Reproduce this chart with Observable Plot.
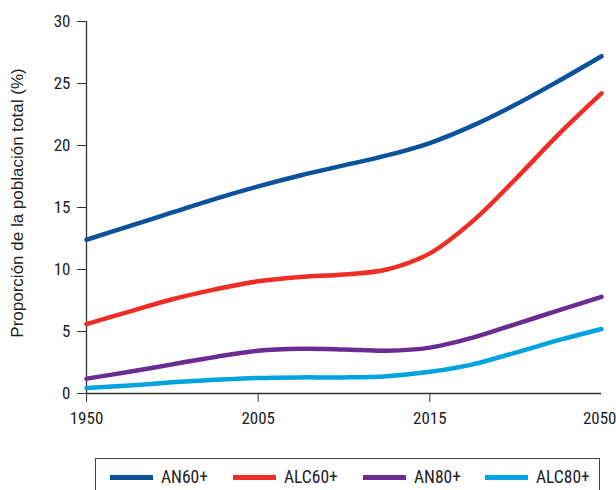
<!DOCTYPE html>
<html>
<head>
<meta charset="utf-8">
<script src="https://cdn.jsdelivr.net/npm/d3@7"></script>
<script src="https://cdn.jsdelivr.net/npm/@observablehq/plot@0.6"></script>
<style>
  body { margin: 0; background: #fff; }
  #wrap { position: relative; width: 616px; height: 490px; overflow: hidden; }
  #legend {
    position: absolute; left: 95px; top: 458px; width: 505px; height: 50px;
    border: 1.5px solid #444; box-sizing: border-box;
    font-family: "Liberation Sans Narrow", "Roboto Condensed", "DejaVu Sans Condensed", sans-serif;
    font-size: 17.5px; color: #222;
  }
  .item { position: absolute; top: 8px; display: flex; align-items: center; }
  .sw { width: 43px; height: 5px; margin-right: 8px; }
</style>
</head>
<body>
<div id="wrap">
  <div id="chart"></div>
  <div id="legend"></div>
</div>
<script>
// x positions along the (non-proportional) time axis: 0 = 1950, 1 = 2005, 2 = 2015, 3 = 2050
const positions = [0, 0.25, 0.5, 0.75, 1, 1.25, 1.5, 1.75, 2, 2.25, 2.5, 2.75, 3];
const tickPositions = [0, 1, 2, 3];
const tickLabels = ["1950", "2005", "2015", "2050"];
const yTicks = [0, 5, 10, 15, 20, 25, 30];

const seriesNames = ["AN60+", "ALC60+", "AN80+", "ALC80+"];
const seriesColors = ["#0a539c", "#ee2e24", "#6a2c91", "#00a3e0"];

const an60  = [12.4, 13.5, 14.6, 15.7, 16.7, 17.6, 18.4, 19.2, 20.2, 21.6, 23.3, 25.2, 27.2];
const alc60 = [5.6, 6.6, 7.6, 8.4, 9.05, 9.4, 9.6, 10.0, 11.3, 13.9, 17.3, 20.9, 24.2];
const an80  = [1.2, 1.75, 2.35, 2.95, 3.45, 3.6, 3.55, 3.45, 3.7, 4.5, 5.6, 6.7, 7.8];
const alc80 = [0.45, 0.65, 0.9, 1.1, 1.25, 1.3, 1.3, 1.4, 1.75, 2.35, 3.3, 4.3, 5.2];

const seriesValues = [an60, alc60, an80, alc80];
const data = [];
seriesNames.forEach((name, s) => {
  positions.forEach((p, i) => data.push({series: name, x: p, y: seriesValues[s][i]}));
});

const tickFont = "'Liberation Sans Narrow', 'Roboto Condensed', 'DejaVu Sans Condensed', sans-serif";

const chart = Plot.plot({
  width: 616,
  height: 433,
  marginLeft: 86,
  marginRight: 15,
  marginTop: 21,
  marginBottom: 40,
  style: {fontFamily: tickFont, fontSize: "17px", color: "#222", background: "#fff"},
  x: {domain: [0, 3]},
  y: {domain: [0, 30]},
  color: {domain: seriesNames, range: seriesColors},
  marks: [
    Plot.axisX({ticks: tickPositions.slice(0, 3), tickFormat: i => tickLabels[i], tickSize: 9, tickPadding: 9, label: null, stroke: "#333"}),
    Plot.axisX({ticks: tickPositions.slice(3), tickFormat: i => tickLabels[i], tickSize: 9, tickPadding: 9, label: null, stroke: "#333", textAnchor: "end", dx: 15}),
    Plot.axisY({ticks: yTicks, tickSize: 9, tickPadding: 7, label: null, stroke: "#333"}),
    Plot.ruleX([0], {stroke: "#333", strokeWidth: 1.3}),
    Plot.ruleY([0], {stroke: "#333", strokeWidth: 1.3}),
    Plot.line(data, {x: "x", y: "y", z: "series", stroke: "series", strokeWidth: 4.5, curve: "catmull-rom"})
  ]
});
document.getElementById("chart").appendChild(chart);

// rotated y-axis title as real SVG text
const svg = d3.select(chart);
svg.append("text")
  .attr("transform", "translate(23,203) rotate(-90)")
  .attr("text-anchor", "middle")
  .style("font-family", "'Liberation Sans', Arial, sans-serif")
  .style("font-size", "17px")
  .attr("fill", "#222")
  .text("Proporción de la población total (%)");

// legend
const legendLefts = [110, 233, 363, 485];
const legend = document.getElementById("legend");
seriesNames.forEach((name, i) => {
  const item = document.createElement("div");
  item.className = "item";
  item.style.left = (legendLefts[i] - 96) + "px";
  const sw = document.createElement("div");
  sw.className = "sw";
  sw.style.background = seriesColors[i];
  const lab = document.createElement("span");
  lab.textContent = name;
  item.appendChild(sw);
  item.appendChild(lab);
  legend.appendChild(item);
});
</script>
</body>
</html>
